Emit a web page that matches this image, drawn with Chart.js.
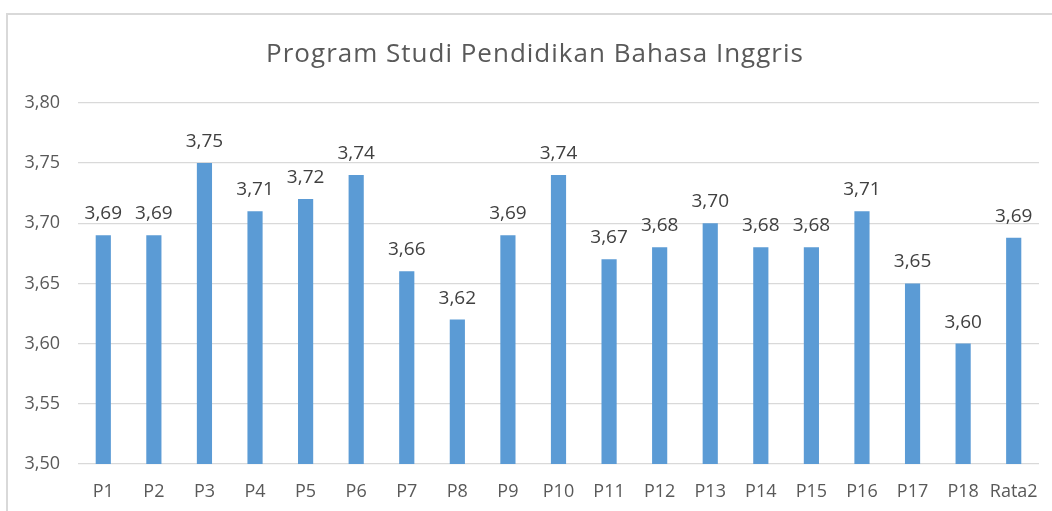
<!DOCTYPE html>
<html>
<head>
<meta charset="utf-8">
<script src="https://cdn.jsdelivr.net/npm/chart.js@4"></script>
<style>
html,body{margin:0;padding:0;background:#fff;overflow:hidden;}
#wrap{position:relative;width:1052px;height:511px;overflow:hidden;}
#frame{position:absolute;left:6px;top:13px;width:1100px;height:600px;border-left:2px solid #d9d9d9;border-top:2px solid #d9d9d9;box-sizing:border-box;}
canvas{position:absolute;left:0;top:0;}
</style>
</head>
<body>
<div id="wrap">
<div id="frame"></div>
<canvas id="c" width="1063" height="511"></canvas>
</div>
<script>
const categories = ['P1','P2','P3','P4','P5','P6','P7','P8','P9','P10','P11','P12','P13','P14','P15','P16','P17','P18','Rata2'];
const values = [3.69,3.69,3.75,3.71,3.72,3.74,3.66,3.62,3.69,3.74,3.67,3.68,3.70,3.68,3.68,3.71,3.65,3.60,3.688];
const yTicks = [3.50,3.55,3.60,3.65,3.70,3.75,3.80];
const titleText = 'Program Studi Pendidikan Bahasa Inggris';

const fmt = v => v.toFixed(2).replace('.', ',');
const FONT = "'Open Sans', 'Noto Sans', sans-serif";

const dataLabels = {
  id: 'dataLabels',
  afterDatasetsDraw(chart) {
    const ctx = chart.ctx;
    const meta = chart.getDatasetMeta(0);
    ctx.save();
    ctx.font = "19px " + FONT;
    ctx.fillStyle = '#404040';
    ctx.textAlign = 'center';
    ctx.textBaseline = 'alphabetic';
    meta.data.forEach((bar, i) => {
      ctx.fillText(fmt(values[i]), bar.x, bar.y - 16);
    });
    ctx.restore();
  }
};

const chart = new Chart(document.getElementById('c'), {
  type: 'bar',
  data: {
    labels: categories,
    datasets: [{
      data: values,
      backgroundColor: '#5b9bd5',
      borderWidth: 0,
      categoryPercentage: 1,
      barPercentage: 0.3
    }]
  },
  options: {
    responsive: false,
    animation: false,
    devicePixelRatio: 1,
    layout: { padding: { left: 7, right: 0, top: 14, bottom: 0 } },
    plugins: {
      legend: { display: false },
      tooltip: { enabled: false },
      title: {
        display: true,
        text: titleText,
        color: '#595959',
        font: { family: FONT, size: 26, weight: 'normal' },
        padding: { top: 25, bottom: 32.6 }
      }
    },
    scales: {
      x: {
        grid: { display: false, drawTicks: false },
        border: { display: false },
        ticks: { color: '#595959', font: { family: FONT, size: 18 }, padding: 17, maxRotation: 0, autoSkip: false },
        afterFit: s => { s.height = 47; }
      },
      y: {
        min: 3.5,
        max: 3.8,
        afterBuildTicks: s => { s.ticks = yTicks.map(v => ({ value: v })); },
        afterFit: s => { s.width = 71; },
        grid: { color: '#d9d9d9', lineWidth: 1.3, drawTicks: false },
        border: { display: false },
        ticks: { color: '#595959', font: { family: FONT, size: 18 }, padding: 18, callback: v => fmt(v) }
      },
      y2: {
        position: 'right',
        display: true,
        grid: { display: false },
        border: { display: false },
        ticks: { display: false },
        afterFit: s => { s.width = 24; }
      }
    }
  },
  plugins: [dataLabels]
});

// slightly widen the title's letter spacing to match the reference
const tb = chart.titleBlock;
if (tb) {
  const origDraw = tb.draw.bind(tb);
  tb.draw = function (area) {
    const ctx = chart.ctx;
    ctx.save();
    if ('letterSpacing' in ctx) ctx.letterSpacing = '1px';
    origDraw(area);
    ctx.restore();
  };
  chart.draw();
}
</script>
</body>
</html>
